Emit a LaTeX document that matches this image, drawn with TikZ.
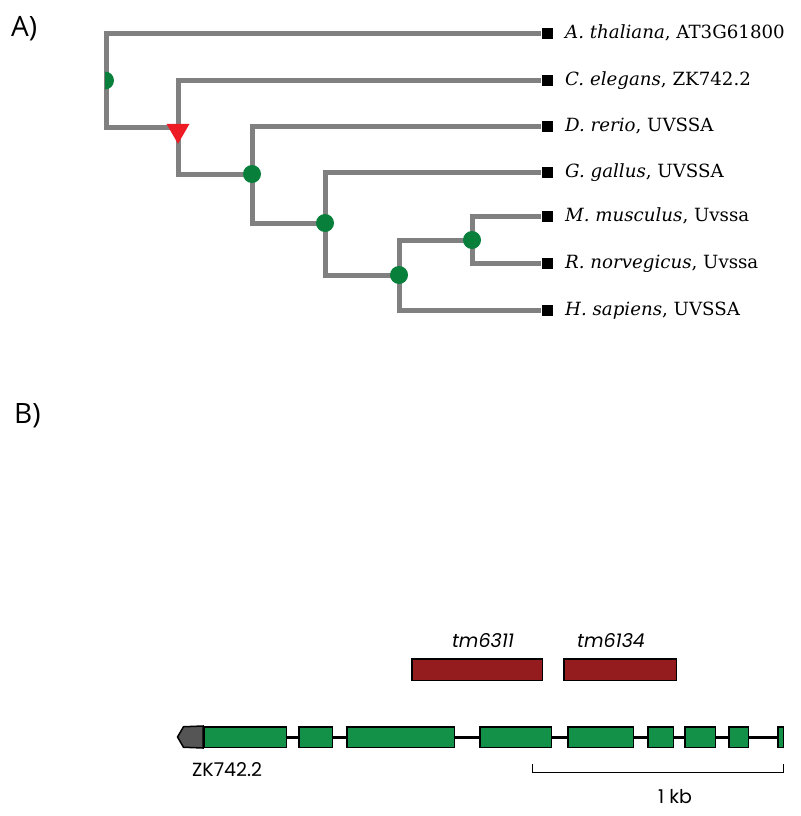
\documentclass[tikz,border=0pt]{standalone}
\usepackage{fontspec}
\usetikzlibrary{shapes.geometric}
\newfontfamily\treefont{DejaVu Serif}
\newfontfamily\genefont{Poppins}
\newfontfamily\panelfont{Open Sans}
\definecolor{treegray}{RGB}{128,128,128}
\definecolor{dupgreen}{RGB}{8,128,60}
\definecolor{lossred}{RGB}{237,28,36}
\definecolor{exongreen}{RGB}{20,145,72}
\definecolor{delred}{RGB}{148,27,30}
\definecolor{utrgray}{RGB}{85,85,85}
\tikzset{
  branch/.style={draw=treegray, line width=5pt, line join=miter},
  leaf/.style={fill=black, minimum size=11pt, inner sep=0pt},
  dup/.style={circle, fill=dupgreen, minimum size=18pt, inner sep=0pt},
  loss/.style={regular polygon, regular polygon sides=3, shape border rotate=180,
    fill=lossred, minimum size=26.6pt, inner sep=0pt},
  species/.style={anchor=base west, inner sep=0pt, font=\treefont\fontsize{18.2}{18}\selectfont},
  panel/.style={anchor=base west, inner sep=0pt, font=\panelfont\fontsize{28}{28}\selectfont},
  exon/.style={draw=black, line width=1.5pt, fill=exongreen, minimum height=20.5pt, inner sep=0pt},
  allele/.style={draw=black, line width=1.5pt, fill=delred, minimum height=21.5pt, inner sep=0pt},
  intron/.style={draw=black, line width=3pt},
  genetext/.style={inner sep=0pt, font=\genefont\fontsize{19}{19}\selectfont}
}
\begin{document}
\begin{tikzpicture}[x=1pt, y=-1pt]
  \useasboundingbox (0,0) rectangle (800,816);

  % panel A: tree
  \node[panel] (labA) at (11,37) {A)};
  \coordinate (root) at (106,80.5);
  \coordinate (n2) at (178,127);
  \coordinate (n3) at (252,174);
  \coordinate (n4) at (325,223);
  \coordinate (n5) at (399,275);
  \coordinate (n6) at (472,240);

  \foreach \name/\y in {ath/34, cel/80, dre/126, gga/172, mmu/216, rno/263, hsa/310}
    \node[leaf] (\name) at (547,\y) {};

  \node[species] (tath) at (565,39) {\textit{A. thaliana}, AT3G61800};
  \node[species] (tcel) at (565,85) {\textit{C. elegans}, ZK742.2};
  \node[species] (tdre) at (565,131) {\textit{D. rerio}, UVSSA};
  \node[species] (tgga) at (565,177) {\textit{G. gallus}, UVSSA};
  \node[species] (tmmu) at (565,221) {\textit{M. musculus}, Uvssa};
  \node[species] (trno) at (565,268) {\textit{R. norvegicus}, Uvssa};
  \node[species] (thsa) at (565,315) {\textit{H. sapiens}, UVSSA};

  \draw[branch] (root) |- (ath);
  \draw[branch] (root) |- (n2);
  \draw[branch] (n2) |- (cel);
  \draw[branch] (n2) |- (n3);
  \draw[branch] (n3) |- (dre);
  \draw[branch] (n3) |- (n4);
  \draw[branch] (n4) |- (gga);
  \draw[branch] (n4) |- (n5);
  \draw[branch] (n5) |- (n6);
  \draw[branch] (n5) |- (hsa);
  \draw[branch] (n6) |- (mmu);
  \draw[branch] (n6) |- (rno);

  \begin{scope}
    \clip (105,60) rectangle (130,100);
    \node[dup] (d1) at ([xshift=-1pt]root) {};
  \end{scope}
  \node[loss] (l2) at ([yshift=-3.5pt]n2) {};
  \foreach \n in {n3,n4,n5,n6}
    \node[dup] at (\n) {};

  % panel B: gene model
  \node[panel] (labB) at (14,423) {B)};

  \foreach \l/\r [count=\i] in {203/287, 298/333, 346/455, 479/552, 567/634,
                                647/674, 684/716, 728/749, 777/784}
    \node[exon, minimum width={\r-\l-1.5}] (exon\i) at ({(\l+\r)/2},737) {};
  \foreach \i [evaluate=\i as \j using int(\i+1)] in {1,...,8}
    \draw[intron] (exon\i.east) -- (exon\j.west);
  \draw[line width=1.5pt, fill=utrgray, line join=miter]
    (exon1.north west) -- (183.5,726.75) -- (177.5,737) -- (183.5,747.25)
    -- (exon1.south west) -- cycle;

  \node[allele, minimum width=130.5pt] (tm1) at (477,669.5) {};
  \node[allele, minimum width=112.5pt] (tm2) at (620,669.5) {};
  \node[genetext, anchor=base] at (483,647) {\itshape tm6311};
  \node[genetext, anchor=base] at (611,647) {\itshape tm6134};
  \node[genetext, anchor=base west] (gname) at (192,776) {ZK742.2};

  \coordinate (sb1) at (532,764);
  \coordinate (sb2) at (783,764);
  \draw[line width=1pt] (sb1) -- ++(0,8) -| (sb2);
  \node[genetext, anchor=base] (kb) at (675,803) {1 kb};
\end{tikzpicture}
\end{document}
